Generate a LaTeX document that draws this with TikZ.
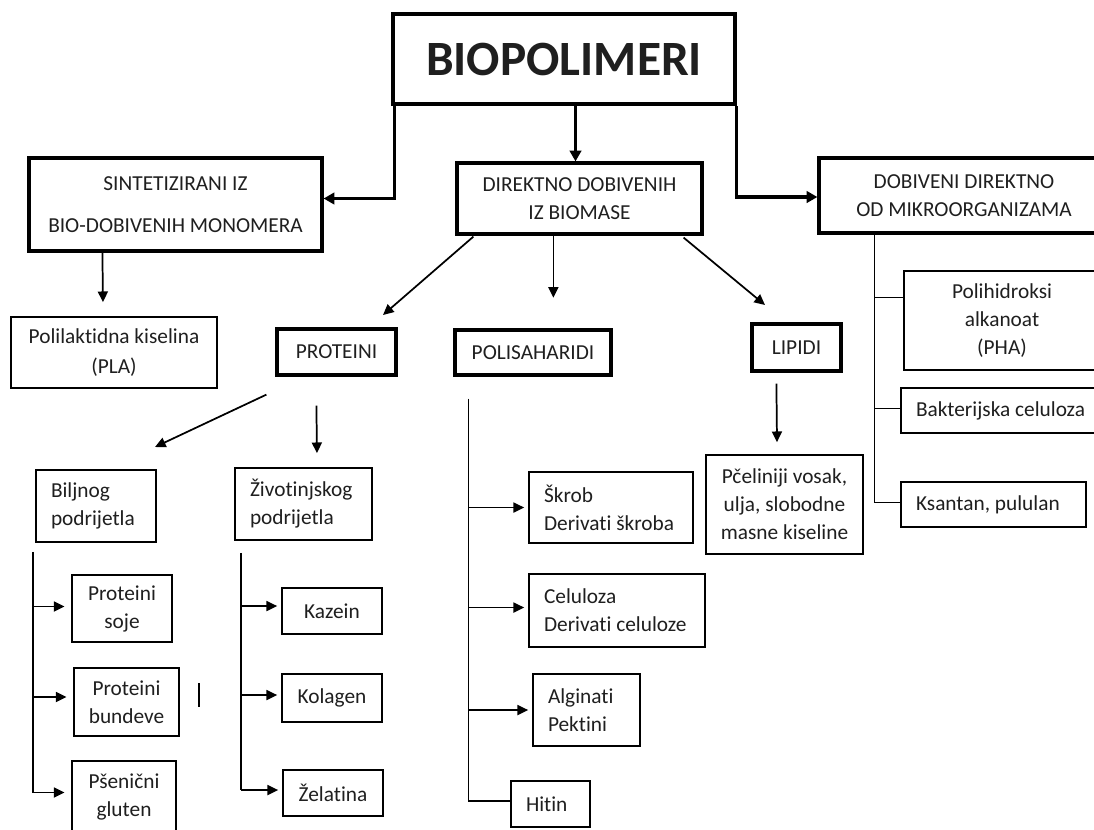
\documentclass[tikz,border=0pt]{standalone}
\usepackage{fontspec}
\setmainfont{Carlito}[Ligatures=NoCommon]
\usetikzlibrary{arrows.meta,calc}
\tikzset{
  bx/.style={draw=black,line width=1.3pt,rectangle,align=flush center,inner sep=0pt,
     font=\fontsize{16pt}{21pt}\selectfont,text=black!88},
  med/.style={line width=2.4pt},
  heavy/.style={line width=3.6pt},
  lft/.style={align=flush left,text width=\bxt},
  ln/.style={line width=1.3pt},
  arr/.style={line width=1.3pt,-{Triangle[length=8pt,width=7.5pt]}},
  harr/.style={line width=2.3pt,-{Triangle[length=8pt,width=8.5pt]}}
}
\newcommand\bxn[7][]{%
  \pgfmathsetlengthmacro\bxw{(#5-#3)*0.75pt}%
  \pgfmathsetlengthmacro\bxh{(#6-#4)*0.75pt}%
  \pgfmathsetlengthmacro\bxt{(#5-#3-30)*0.75pt}%
  \node[bx,minimum width=\bxw,minimum height=\bxh,#1] (#2) at ({(#3+#5)/2},{(#4+#6)/2}) {#7};}
\begin{document}
\begin{tikzpicture}[x=0.75pt,y=-0.75pt]
\useasboundingbox (0,0) rectangle (1094,829);
\fill[white] (0,0) rectangle (1094,829);
\clip (0,0) rectangle (1094,829);
% boxes
\bxn[heavy,font=\fontsize{37pt}{40pt}\selectfont\bfseries]{bio}{393}{14}{735}{104}{BIOPOLIMERI}
\bxn[med]{sint}{29}{158}{322}{251}{SINTETIZIRANI IZ\\[11pt]BIO-DOBIVENIH MONOMERA}
\bxn[med]{dir}{457}{163}{702}{234}{DIREKTNO DOBIVENIH\\IZ BIOMASE}
\bxn[med]{dob}{819}{158}{1109}{233}{DOBIVENI DIREKTNO\\OD MIKROORGANIZAMA}
\bxn{pla}{11}{317}{217}{388}{Polilaktidna kiselina\\[1.5pt](PLA)}
\bxn[med]{prot}{277}{329}{396}{375}{PROTEINI}
\bxn[med]{pol}{455}{330}{611}{375}{POLISAHARIDI}
\bxn[med]{lip}{752}{324}{841}{371}{LIPIDI}
\bxn{pha}{904}{271}{1100}{370}{Polihidroksi\\alkanoat\\(PHA)}
\bxn[lft]{bak}{901}{388}{1100}{433}{Bakterijska celuloza}
\bxn[lft]{ksa}{901}{482}{1086}{527}{Ksantan, pululan}
\bxn[lft]{bil}{36}{470}{156}{542}{Biljnog\\podrijetla}
\bxn[lft]{ziv}{235}{468}{372}{540}{Životinjskog\\podrijetla}
\bxn{soje}{72}{575}{172}{642}{Proteini\\soje}
\bxn{bun}{74}{668}{179}{736}{Proteini\\bundeve}
\bxn{glu}{72}{761}{176}{832}{Pšenični\\gluten}
\bxn{kaz}{282}{588}{382}{634}{Kazein}
\bxn{kol}{282}{674}{382}{722}{Kolagen}
\bxn{zel}{283}{770}{383}{816}{Želatina}
\bxn[lft]{skr}{529}{472}{693}{543}{Škrob\\Derivati škroba}
\bxn[lft]{cel}{529}{574}{705}{647}{Celuloza\\Derivati celuloze}
\bxn[lft]{alg}{533}{674}{640}{746}{Alginati\\Pektini}
\bxn[lft]{hit}{511}{781}{590}{827}{Hitin}
\bxn{pce}{706}{455}{863}{554}{Pčeliniji vosak,\\ulja, slobodne\\masne kiseline}
% connectors from BIOPOLIMERI
\draw[harr] ($(bio.south west)+(4,0)$) |- ($(sint.east)+(0,-6)$);
\coordinate (dn) at ($(dir.north)+(-4,0)$);
\draw[harr] (dn |- bio.south) -- (dn);
\draw[harr] ($(bio.south east)+(-1,0)$) |- ($(dob.west)+(0,1.5)$);
% second level
\draw[arr,shorten >=10.5pt] ($(sint.south west)+(75,0)$) -- ($(pla.north west)+(93,0)$);
\coordinate (pA) at (383,315);
\coordinate (pL) at (765,305);
\coordinate (pB) at (155,447);
\draw[arr] ($(dir.south west)+(18,1)$) -- (pA);
\draw[arr,shorten >=23pt] ($(dir.south west)+(98,0)$) -- ($(pol.north west)+(100,0)$);
\draw[arr] ($(dir.south east)+(-20,2)$) -- (pL);
\draw[arr] ($(prot.south west)+(-9,18)$) -- (pB);
\draw[arr,shorten >=10.5pt] ($(prot.south west)+(41,29)$) -- ($(ziv.north west)+(83,0)$);
\draw[arr,shorten >=9pt] ($(lip.south west)+(26,11)$) -- ($(pce.north west)+(72,0)$);
% biljnog trunk
\coordinate (btr) at ($(bil.south west)+(-2,9)$);
\draw[ln] (btr) -- ($(btr |- glu.west)+(0,-4)$);
\draw[arr,shorten >=5pt] ($(btr |- soje.west)+(0,-2)$) -- ($(soje.west)+(0,-2)$);
\draw[arr,shorten >=5pt] ($(btr |- bun.west)+(0,-5)$) -- ($(bun.west)+(0,-5)$);
\draw[arr,shorten >=5pt] ($(btr |- glu.west)+(0,-4)$) -- ($(glu.west)+(0,-4)$);
% zivotinjskog trunk
\coordinate (ztr) at ($(ziv.south west)+(7,12)$);
\draw[ln] (ztr) -- ($(ztr |- zel.west)+(0,-3)$);
\draw[arr,shorten >=3pt] ($(ztr |- kaz.west)+(0,-5)$) -- ($(kaz.west)+(0,-5)$);
\draw[arr,shorten >=3pt] ($(ztr |- kol.west)+(0,-3)$) -- ($(kol.west)+(0,-3)$);
\draw[arr,shorten >=3pt] ($(ztr |- zel.west)+(0,-3)$) -- ($(zel.west)+(0,-3)$);
% polisaharidi trunk
\coordinate (ptr) at ($(pol.south west)+(15,22)$);
\draw[ln] (ptr) -- ($(ptr |- hit.west)+(0,-3)$);
\draw[arr,shorten >=3pt] (ptr |- skr.west) -- (skr.west);
\draw[arr,shorten >=3pt] ($(ptr |- cel.west)+(0,-3)$) -- ($(cel.west)+(0,-3)$);
\draw[arr,shorten >=3pt] (ptr |- alg.west) -- (alg.west);
\draw[ln] ($(ptr |- hit.west)+(0,-3)$) -- ($(hit.west)+(0,-3)$);
% mikroorganizmi trunk
\coordinate (dtr) at ($(dob.south west)+(57,0)$);
\coordinate (phab) at ($(pha.west)+(0,-23)$);
\draw[ln] (dtr) |- ($(ksa.west)+(0,-2)$);
\draw[ln] (dtr |- phab) -- (phab);
\draw[ln] ($(dtr |- bak.west)+(0,-2)$) -- ($(bak.west)+(0,-2)$);
% stray mark
\draw[line width=1pt] (199,683) -- (199,707);
\end{tikzpicture}
\end{document}
